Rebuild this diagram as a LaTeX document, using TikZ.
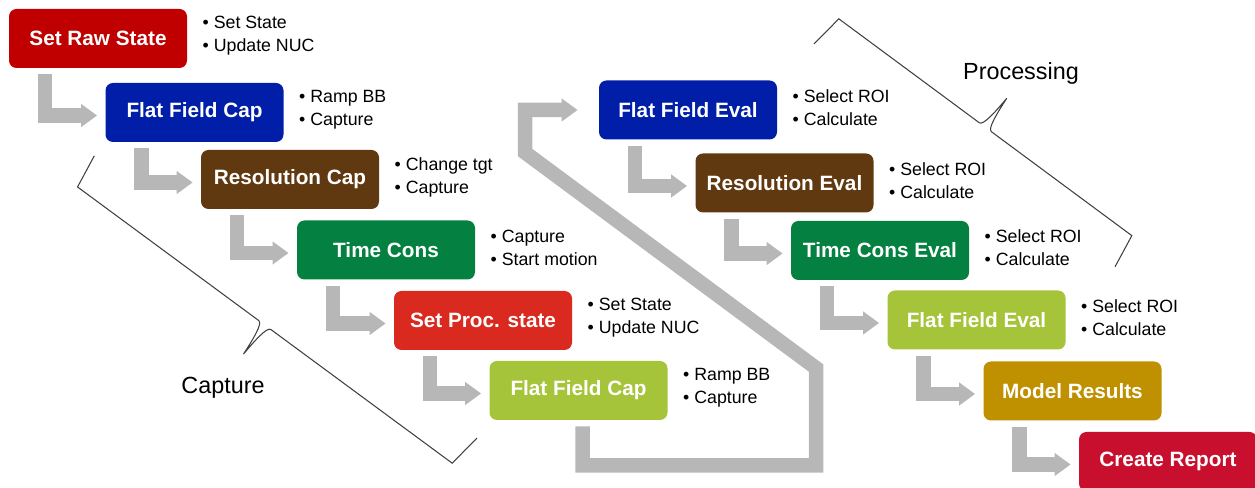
\documentclass[tikz,border=0pt]{standalone}
\usepackage{fontspec}
\setmainfont{Liberation Sans}
\usetikzlibrary{arrows.meta,positioning}
\definecolor{rawred}{RGB}{192,0,0}
\definecolor{capblue}{RGB}{0,30,168}
\definecolor{resbrown}{RGB}{97,57,16}
\definecolor{tcgreen}{RGB}{4,128,64}
\definecolor{procred}{RGB}{218,41,30}
\definecolor{ffgreen}{RGB}{165,196,58}
\definecolor{modgold}{RGB}{191,144,0}
\definecolor{repred}{RGB}{200,16,46}
\definecolor{flowgray}{RGB}{183,183,183}
% bracket: start point, angle, length
\newcommand{\stepbrace}[3]{%
  \begin{scope}[shift={#1},rotate=#2]
    \draw[curly] (0,0) -- (0.1,0.7) -- ({#3/2-0.15},0.7)
      .. controls ({#3/2-0.05},0.7) and ({#3/2-0.02},1.1) .. ({#3/2},1.42)
      .. controls ({#3/2+0.02},1.1) and ({#3/2+0.05},0.7) .. ({#3/2+0.15},0.7)
      -- ({#3-0.1},0.7) -- (#3,0);
  \end{scope}}

\begin{document}
\begin{tikzpicture}[
    stage/.style={rounded corners=0.15cm, minimum width=3.56cm, minimum height=1.18cm,
      inner sep=0pt, text=white, font=\fontsize{11.8}{14}\selectfont\bfseries},
    notes/.style={align=left, inner sep=0pt, font=\fontsize{10.1}{13.1}\selectfont},
    flow/.style={draw=flowgray, line width=0.29cm, line join=miter,
      -{Triangle[length=0.32cm, width=0.44cm]}},
    curly/.style={draw=black!75, line width=0.6pt},
    biglabel/.style={font=\fontsize{13.3}{16}\selectfont}
]
\useasboundingbox (0,0) rectangle (25.1,9.76);

% capture column
\node[stage, fill=rawred] (rawst) at (1.96,8.99) {Set Raw State};
\node[stage, fill=capblue] (ffcap) at (3.89,7.51) {Flat Field Cap};
\node[stage, fill=resbrown] (rescap) at (5.80,6.17) {Resolution Cap};
\node[stage, fill=tcgreen] (tcons) at (7.72,4.76) {Time Cons};
\node[stage, fill=procred] (procst) at (9.66,3.35) {Set Proc. state};
\node[stage, fill=ffgreen] (ffcap2) at (11.57,1.95) {Flat Field Cap};

% processing column
\node[stage, fill=capblue] (ffeval) at (13.76,7.56) {Flat Field Eval};
\node[stage, fill=resbrown] (reseval) at (15.69,6.10) {Resolution Eval};
\node[stage, fill=tcgreen] (tceval) at (17.60,4.75) {Time Cons Eval};
\node[stage, fill=ffgreen] (ffeval2) at (19.53,3.36) {Flat Field Eval};
\node[stage, fill=modgold] (model) at (21.45,1.94) {Model Results};
\node[stage, fill=repred] (report) at (23.36,0.53) {Create Report};

% bullet notes
\node[notes, right=0.3cm of rawst, yshift=0.05cm] (rawstn) {\textbullet\ Set State\\\textbullet\ Update NUC};
\node[notes, right=0.3cm of ffcap, yshift=0.05cm] (ffcapn) {\textbullet\ Ramp BB\\\textbullet\ Capture};
\node[notes, right=0.3cm of rescap, yshift=0.05cm] (rescapn) {\textbullet\ Change tgt\\\textbullet\ Capture};
\node[notes, right=0.3cm of tcons, yshift=0.05cm] (tconsn) {\textbullet\ Capture\\\textbullet\ Start motion};
\node[notes, right=0.3cm of procst, yshift=0.05cm] (procstn) {\textbullet\ Set State\\\textbullet\ Update NUC};
\node[notes, right=0.3cm of ffcap2, yshift=0.05cm] (ffcap2n) {\textbullet\ Ramp BB\\\textbullet\ Capture};
\node[notes, right=0.3cm of ffeval, yshift=0.05cm] (ffevaln) {\textbullet\ Select ROI\\\textbullet\ Calculate};
\node[notes, right=0.3cm of reseval, yshift=0.05cm] (resevaln) {\textbullet\ Select ROI\\\textbullet\ Calculate};
\node[notes, right=0.3cm of tceval, yshift=0.05cm] (tcevaln) {\textbullet\ Select ROI\\\textbullet\ Calculate};
\node[notes, right=0.3cm of ffeval2, yshift=0.05cm] (ffeval2n) {\textbullet\ Select ROI\\\textbullet\ Calculate};

% elbow arrows
\foreach \a/\b in {rawst/ffcap, ffcap/rescap, rescap/tcons, tcons/procst, procst/ffcap2,
    ffeval/reseval, reseval/tceval, tceval/ffeval2, ffeval2/model, model/report} {
  \draw[flow] ([xshift=0.73cm, yshift=-0.12cm]\a.south west) |- ([xshift=-0.16cm, yshift=-0.06cm]\b.west);
}

% return arrow
\coordinate (lowbend) at (16.32,0.45);
\coordinate (upbend) at (16.32,2.40);
\coordinate (leftbend) at (10.50,6.71);
\draw[flow] ([xshift=0.08cm, yshift=-0.12cm]ffcap2.south) |- (lowbend) -- (upbend)
  -- (leftbend) |- ([xshift=-0.42cm]ffeval.west);

% brackets
\stepbrace{(16.28,8.88)}{-36.5}{7.49}
\stepbrace{(9.54,1.00)}{143.6}{9.51}
\node[biglabel] (proclbl) at (20.42,8.30) {Processing};
\node[biglabel] (caplbl) at (4.46,2.00) {Capture};
\end{tikzpicture}
\end{document}
